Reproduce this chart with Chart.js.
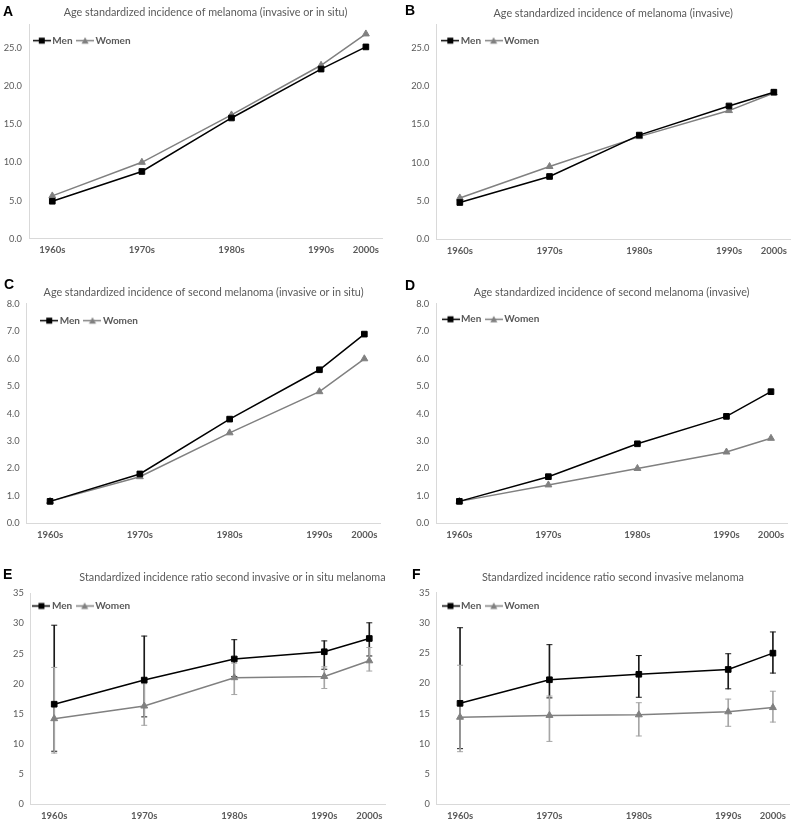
<!DOCTYPE html>
<html>
<head>
<meta charset="utf-8">
<script src="https://cdn.jsdelivr.net/npm/chart.js@4.4.1/dist/chart.umd.min.js"></script>
<style>
  body { margin: 0; background: #fff; }
  #wrap { position: relative; width: 800px; height: 824px; }
  .panel { position: absolute; }
  .letter { position: absolute; font: bold 14px "Liberation Sans", Arial, sans-serif; line-height: 14px; color: #000; }
</style>
</head>
<body>
<div id="wrap">
  <div class="panel" style="left:0;top:0"><canvas id="chartA" width="400" height="262"></canvas></div>
  <div class="panel" style="left:400px;top:0"><canvas id="chartB" width="400" height="262"></canvas></div>
  <div class="panel" style="left:0;top:270px"><canvas id="chartC" width="400" height="275"></canvas></div>
  <div class="panel" style="left:400px;top:270px"><canvas id="chartD" width="400" height="275"></canvas></div>
  <div class="panel" style="left:0;top:555px"><canvas id="chartE" width="400" height="269"></canvas></div>
  <div class="panel" style="left:400px;top:555px"><canvas id="chartF" width="400" height="269"></canvas></div>
  <div class="letter" style="left:3px;top:4px">A</div>
  <div class="letter" style="left:405px;top:3px">B</div>
  <div class="letter" style="left:4px;top:277px">C</div>
  <div class="letter" style="left:405px;top:278px">D</div>
  <div class="letter" style="left:3px;top:567px">E</div>
  <div class="letter" style="left:412px;top:567px">F</div>
</div>
<script>
const decades = ["1960s", "1970s", "1980s", "1990s", "2000s"];
const decadeX = [1965, 1975, 1985, 1995, 2000];

// A: incidence of melanoma (invasive or in situ)
const aMen = [4.9, 8.8, 15.8, 22.2, 25.1];
const aWomen = [5.6, 10.0, 16.2, 22.7, 26.8];

// B: incidence of melanoma (invasive)
const bMen = [4.8, 8.2, 13.6, 17.4, 19.2];
const bWomen = [5.4, 9.5, 13.4, 16.8, 19.1];

// C: second melanoma (invasive or in situ)
const cMen = [0.8, 1.8, 3.8, 5.6, 6.9];
const cWomen = [0.8, 1.7, 3.3, 4.8, 6.0];

// D: second melanoma (invasive)
const dMen = [0.8, 1.7, 2.9, 3.9, 4.8];
const dWomen = [0.8, 1.4, 2.0, 2.6, 3.1];

// E: SIR second invasive or in situ melanoma, with 95% CI
const eMen = [16.6, 20.6, 24.1, 25.3, 27.5];
const eMenLow = [8.8, 14.5, 21.2, 22.4, 24.6];
const eMenHigh = [29.7, 27.9, 27.3, 27.1, 30.1];
const eWomen = [14.2, 16.3, 21.0, 21.2, 23.8];
const eWomenLow = [8.5, 13.1, 18.2, 19.2, 22.1];
const eWomenHigh = [22.7, 20.0, 23.4, 22.8, 26.0];

// F: SIR second invasive melanoma, with 95% CI
const fMen = [16.7, 20.6, 21.5, 22.3, 25.0];
const fMenLow = [9.2, 17.6, 17.7, 19.1, 21.7];
const fMenHigh = [29.2, 26.4, 24.6, 24.9, 28.5];
const fWomen = [14.4, 14.7, 14.8, 15.3, 16.0];
const fWomenLow = [8.7, 10.4, 11.3, 12.9, 13.6];
const fWomenHigh = [23.0, 17.9, 16.8, 17.4, 18.7];

const MEN_COLOR = "#000000";
const WOMEN_COLOR = "#808080";
const WOMEN_BAR = "#a6a6a6";
const TEXT = "#595959";
const AXIS = "#d9d9d9";

Chart.defaults.font.family = "Lato";
Chart.defaults.animation = false;

// little "line + marker" icons for the legend
function legendIcon(color, shape) {
    const c = document.createElement("canvas");
    c.width = 18;
    c.height = 9;
    const g = c.getContext("2d");
    g.strokeStyle = color;
    g.fillStyle = color;
    g.lineWidth = 1.5;
    g.beginPath();
    g.moveTo(0, 4.5);
    g.lineTo(18, 4.5);
    g.stroke();
    if (shape === "rect") {
        g.fillRect(6, 1.5, 6, 6);
    } else {
        g.beginPath();
        g.moveTo(9, 1);
        g.lineTo(12.5, 7.5);
        g.lineTo(5.5, 7.5);
        g.closePath();
        g.fill();
    }
    return c;
}
const icons = [legendIcon(MEN_COLOR, "rect"), legendIcon(WOMEN_COLOR, "triangle")];

// puts the legend as a row in the top-left corner of the plot area
const legendInside = {
    id: "legendInside",
    afterInit(chart) {
        chart.legend.isHorizontal = () => true;
    },
    afterLayout(chart, args, opts) {
        const lg = chart.legend;
        const area = chart.chartArea;
        const pad = lg.options.labels.padding;
        lg.left = area.left + opts.x - pad - 5.5;
        lg.top = area.top + opts.y - pad - 5;
        lg.right = lg.left + 220;
        lg.bottom = lg.top + lg.height;
    },
};

const toPoints = (vals) => vals.map((v, i) => ({ x: decadeX[i], y: v }));
const toBars = (lo, hi) => lo.map((v, i) => ({ x: decadeX[i], y: [v, hi[i]] }));
const toCaps = (lo, hi) => toPoints(lo).concat(toPoints(hi));

function makePanel(id, p) {
    const datasets = [
        {
            label: "Men",
            data: toPoints(p.men),
            borderColor: MEN_COLOR,
            backgroundColor: MEN_COLOR,
            borderWidth: 1.5,
            pointStyle: "rect",
            pointRadius: 4,
            pointBorderWidth: 1,
            order: 0,
        },
        {
            label: "Women",
            data: toPoints(p.women),
            borderColor: WOMEN_COLOR,
            backgroundColor: WOMEN_COLOR,
            borderWidth: 1.5,
            pointStyle: "triangle",
            pointRadius: 4,
            pointBorderWidth: 1,
            order: 1,
        },
    ];
    if (p.menLow) {
        datasets.push(
            {
                type: "bar",
                data: toBars(p.womenLow, p.womenHigh),
                backgroundColor: WOMEN_BAR,
                barThickness: 1,
                grouped: false,
                order: 2,
            },
            {
                data: toCaps(p.womenLow, p.womenHigh),
                showLine: false,
                pointStyle: "line",
                pointRadius: 3,
                pointBorderWidth: 1,
                pointBorderColor: WOMEN_BAR,
                order: 2,
            },
            {
                type: "bar",
                data: toBars(p.menLow, p.menHigh),
                backgroundColor: "#1a1a1a",
                barThickness: 1,
                grouped: false,
                order: 3,
            },
            {
                data: toCaps(p.menLow, p.menHigh),
                showLine: false,
                pointStyle: "line",
                pointRadius: 3,
                pointBorderWidth: 1,
                pointBorderColor: "#1a1a1a",
                order: 3,
            }
        );
    }

    const ctx = document.getElementById(id).getContext("2d");
    return new Chart(ctx, {
        type: "line",
        data: { datasets: datasets },
        plugins: [legendInside],
        options: {
            responsive: false,
            layout: { padding: { left: 0, right: p.padR, top: 0, bottom: 0 } },
            plugins: {
                tooltip: { enabled: false },
                title: {
                    display: true,
                    text: p.title,
                    fullSize: false,
                    align: p.titleAlign || "center",
                    color: TEXT,
                    font: { size: 10.8, weight: "normal", lineHeight: 1.2 },
                    padding: { top: p.tTop - 0.5, bottom: p.tBot - 0.5 },
                },
                legend: {
                    position: "chartArea",
                    align: "start",
                    labels: {
                        usePointStyle: true,
                        pointStyleWidth: 11,
                        boxHeight: 9,
                        padding: 7,
                        color: TEXT,
                        font: { size: 10, weight: "bold" },
                        filter: (item) => item.datasetIndex < 2,
                        generateLabels: (chart) =>
                            Chart.defaults.plugins.legend.labels.generateLabels(chart).map((item) => {
                                if (item.datasetIndex < 2) item.pointStyle = icons[item.datasetIndex];
                                return item;
                            }),
                    },
                },
                legendInside: { x: p.legX, y: p.legY },
            },
            scales: {
                x: {
                    type: "linear",
                    min: 1962.4,
                    max: 2001.8,
                    offset: false,
                    border: { color: AXIS },
                    grid: { display: false, drawTicks: false },
                    afterBuildTicks: (s) => {
                        s.ticks = decadeX.map((v) => ({ value: v }));
                    },
                    afterFit: (s) => {
                        s.height = p.xh;
                    },
                    ticks: {
                        autoSkip: false,
                        maxRotation: 0,
                        padding: 6,
                        color: TEXT,
                        font: { size: 9.5, weight: "bold" },
                        callback: (v) => decades[decadeX.indexOf(v)],
                    },
                },
                y: {
                    min: 0,
                    max: p.yMax,
                    border: { color: AXIS },
                    grid: { display: false, drawTicks: false },
                    afterFit: (s) => {
                        s.width = p.left;
                    },
                    ticks: {
                        stepSize: p.yStep,
                        includeBounds: false,
                        padding: 7,
                        color: TEXT,
                        font: { size: 9.3 },
                        callback: (v) => v.toFixed(p.yDec),
                    },
                },
            },
        },
    });
}

makePanel("chartA", {
    title: "Age standardized incidence of melanoma (invasive or in situ)",
    men: aMen, women: aWomen,
    yMax: 28, yStep: 5, yDec: 1,
    left: 29, padR: 18, tTop: 7, tBot: 5.8, xh: 23.3, legX: 12.8, legY: 15.9,
});
makePanel("chartB", {
    title: "Age standardized incidence of melanoma (invasive)",
    men: bMen, women: bWomen,
    yMax: 28, yStep: 5, yDec: 1,
    left: 36.5, padR: 10, tTop: 8, tBot: 4.8, xh: 22.7, legX: 13.8, legY: 15.9,
});
makePanel("chartC", {
    title: "Age standardized incidence of second melanoma (invasive or in situ)",
    men: cMen, women: cWomen,
    yMax: 8, yStep: 1, yDec: 1,
    left: 26.7, padR: 19.5, tTop: 17, tBot: 5, xh: 21.7, legX: 22.5, legY: 16.7,
});
makePanel("chartD", {
    title: "Age standardized incidence of second melanoma (invasive)",
    men: dMen, women: dWomen,
    yMax: 8, yStep: 1, yDec: 1,
    left: 36.2, padR: 13, tTop: 17, tBot: 5, xh: 21.7, legX: 14.3, legY: 15.3,
});
makePanel("chartE", {
    title: "Standardized incidence ratio second invasive or in situ melanoma",
    titleAlign: "end",
    men: eMen, women: eWomen,
    menLow: eMenLow, menHigh: eMenHigh, womenLow: eWomenLow, womenHigh: eWomenHigh,
    yMax: 35, yStep: 5, yDec: 0,
    left: 30.8, padR: 14.5, tTop: 17, tBot: 9.3, xh: 19.7, legX: 10.6, legY: 12.7,
});
makePanel("chartF", {
    title: "Standardized incidence ratio second invasive melanoma",
    men: fMen, women: fWomen,
    menLow: fMenLow, menHigh: fMenHigh, womenLow: fWomenLow, womenHigh: fWomenHigh,
    yMax: 35, yStep: 5, yDec: 0,
    left: 36.8, padR: 11, tTop: 17, tBot: 8.7, xh: 19.7, legX: 13.7, legY: 13.3,
});
</script>
</body>
</html>
